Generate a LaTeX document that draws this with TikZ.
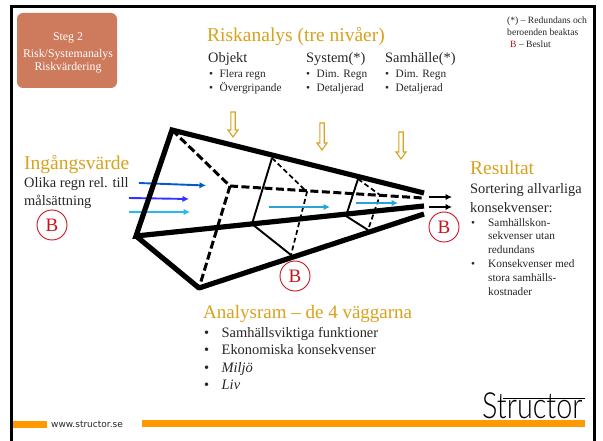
\documentclass[tikz,border=0pt]{standalone}
\usepackage{fontspec}
\setmainfont{Liberation Serif}
\newfontfamily\wwwfont{DejaVu Sans}
\newfontfamily\logofont{Lato Light}
\usepackage{xcolor}
\usetikzlibrary{arrows.meta}
\definecolor{goldtext}{HTML}{D8A21C}
\definecolor{redmark}{HTML}{C8141E}
\definecolor{stegbox}{HTML}{CE7A5C}
\definecolor{footbar}{HTML}{FF9900}
\tikzset{
  txt/.style={anchor=base west,inner sep=0pt,text=black!85},
  headtxt/.style={txt,text=goldtext,font=\fontsize{19.5}{20}\selectfont},
  subtxt/.style={txt,font=\fontsize{14.4}{16}\selectfont},
  smalltxt/.style={txt,font=\fontsize{11.3}{13}\selectfont},
  notetxt/.style={txt,font=\fontsize{9.6}{11}\selectfont},
  boxtxt/.style={anchor=base,inner sep=0pt,text=white,font=\fontsize{11.8}{13}\selectfont},
  bmark/.style={circle,draw=redmark,fill=white,line width=0.9pt,text=redmark,minimum size=30pt,inner sep=0pt,font=\fontsize{19}{20}\selectfont},
  wall/.style={line width=5.2pt},
  rib/.style={line width=1.9pt},
  hidden/.style={line width=3pt,dash pattern=on 8pt off 3.5pt},
  hiddenrib/.style={line width=1.7pt,dash pattern=on 5pt off 3pt},
  flow/.style={line width=1.9pt,-{Latex[length=6.5pt,width=6.5pt]}},
  hollow/.style={draw=goldtext,fill=white,line width=1.1pt},
}
\newcommand{\hollowarrow}[3]{% x, y top, y tip
  \draw[hollow] (#1-2.2,#2) -- (#1+2.2,#2) -- (#1+2.2,#3-7) -- (#1+5,#3-7) -- (#1,#3) -- (#1-5,#3-7) -- (#1-2.2,#3-7) -- cycle;
}
\begin{document}
\begin{tikzpicture}[x=1pt,y=-1pt]
  \useasboundingbox (0,0) rectangle (603,441);

  % slide frame
  \fill[black] (9.5,5) rectangle (595.5,441);
  \fill[white] (12.5,8) rectangle (592.5,441);

  % step box
  \fill[stegbox,rounded corners=6pt] (17,13) rectangle (117,88);
  \node[boxtxt] (steg) at (68,41) {Steg 2};
  \node[boxtxt] (risk) at (68,58) {Risk/Systemanalys};
  \node[boxtxt] (vard) at (68,71) {Riskvärdering};

  % top texts
  \node[headtxt] (riskanalys) at (207,42) {Riskanalys (tre nivåer)};
  \node[subtxt] (objekt) at (208,63) {Objekt};
  \node[subtxt] (system) at (306,63) {System(*)};
  \node[subtxt] (samhalle) at (385,63) {Samhälle(*)};
  \foreach \xb/\yb/\lbl in {209/78/Flera regn,209/92/Övergripande,306/78/Dim. Regn,306/92/Detaljerad,385/78/Dim. Regn,385/92/Detaljerad}
    \node[smalltxt] at (\xb,\yb) {\textbullet\hspace{6.5pt}\lbl};

  % note
  \node[notetxt] (note1) at (507,24) {(*) – Redundans och};
  \node[notetxt] (note2) at (507,36) {beroenden beaktas};
  \node[notetxt] (note3) at (510,48) {\textcolor{redmark}{B} – Beslut};

  % corners of the frame
  \coordinate (topl) at (172,130);
  \coordinate (midl) at (136,236);
  \coordinate (botl) at (199,288);
  \coordinate (backl) at (230,186);
  \coordinate (topr) at (424,193);
  \coordinate (midr) at (424,206);
  \coordinate (botr) at (424,214);
  \coordinate (backr) at (423,198);
  \coordinate (topa) at (272,158);
  \coordinate (mida) at (252,224);
  \coordinate (bota) at (291,255);
  \coordinate (backa) at (307,192);
  \coordinate (topb) at (358,179);
  \coordinate (midb) at (346,216);
  \coordinate (botb) at (368,230);
  \coordinate (backb) at (380,195);

  % hidden edges
  \draw[hidden] (topl) -- (backl) -- (botl);
  \draw[hidden] (backl) -- (backr);
  \draw[hiddenrib] (topa) -- (backa) -- (bota);
  \draw[hiddenrib] (topb) -- (backb) -- (botb);

  % ribs
  \draw[rib] (topa) -- (mida) -- (bota);
  \draw[rib] (topb) -- (midb) -- (botb);

  % arrows through the frame
  \draw[flow,draw=blue!55!cyan!80!black] (139,183) -- (206,185.5);
  \draw[flow,draw=blue!80!white] (129,198) -- (189,199);
  \draw[flow,draw=cyan!85!white] (129,212) -- (190,212);
  \draw[flow,draw=blue!30!cyan!70!gray] (269,207) -- (330,207);
  \draw[flow,draw=blue!30!cyan!70!gray] (356,203) -- (398,203);

  % walls
  \draw[wall,line join=miter] (topr) -- (topl) -- (midl) -- (midr);
  \draw[wall,line join=round] (midl) -- (botl) -- (botr);

  % out arrows
  \draw[flow,draw=black] (429,197) -- (452,197);
  \draw[flow,draw=black] (429,207) -- (452,207);

  % yellow arrows
  \hollowarrow{233}{112}{137}
  \hollowarrow{322}{123}{150}
  \hollowarrow{401}{132}{159}

  % left texts
  \node[headtxt] (ingang) at (24,170) {Ingångsvärde};
  \node[subtxt] (olika) at (24,188) {Olika regn rel. till};
  \node[subtxt] (malsatt) at (24,206) {målsättning};

  % B marks
  \node[bmark] (bleft) at (52,225) {B};
  \node[bmark] (bright) at (444,227) {B};
  \node[bmark] (bbot) at (295,276) {B};

  % right texts
  \node[headtxt] (resultat) at (470,175) {Resultat};
  \node[subtxt] (sort) at (470,194) {Sortering allvarliga};
  \node[subtxt] (kons) at (470,212) {konsekvenser:};
  \node[smalltxt] at (471,226) {\textbullet};
  \node[smalltxt] at (471,267) {\textbullet};
  \foreach \yb/\lbl in {226/Samhällskon-,240/sekvenser utan,253/redundans,267/Konsekvenser med,281/stora samhälls-,295/kostnader}
    \node[smalltxt] at (488,\yb) {\lbl};

  % bottom texts
  \node[headtxt,font=\fontsize{19}{20}\selectfont] (analysram) at (203,318) {Analysram – de 4 väggarna};
  \foreach \yb/\lbl in {337/Samhällsviktiga funktioner,354/Ekonomiska konsekvenser,372/\textit{Miljö},389/\textit{Liv}}
    \node[subtxt] at (204,\yb) {\textbullet\hspace{12.5pt}\lbl};

  % footer
  \fill[footbar] (12.5,420.5) rectangle (47,427.5);
  \fill[footbar] (142,420) rectangle (585,427);
  \node[txt,font=\wwwfont\fontsize{9}{10}\selectfont] (www) at (51,427.5) {www.structor.se};

  % logo
  \node[txt,text=black,font=\logofont\fontsize{36}{38}\selectfont] (logo) at (482,418) {\scalebox{.80}[1]{Structor}};
  \coordinate (logoa) at (503,398.5);
  \coordinate (logob) at (585,398.5);
  \draw[black,line width=1pt] (logoa) -- (logob);
\end{tikzpicture}
\end{document}
